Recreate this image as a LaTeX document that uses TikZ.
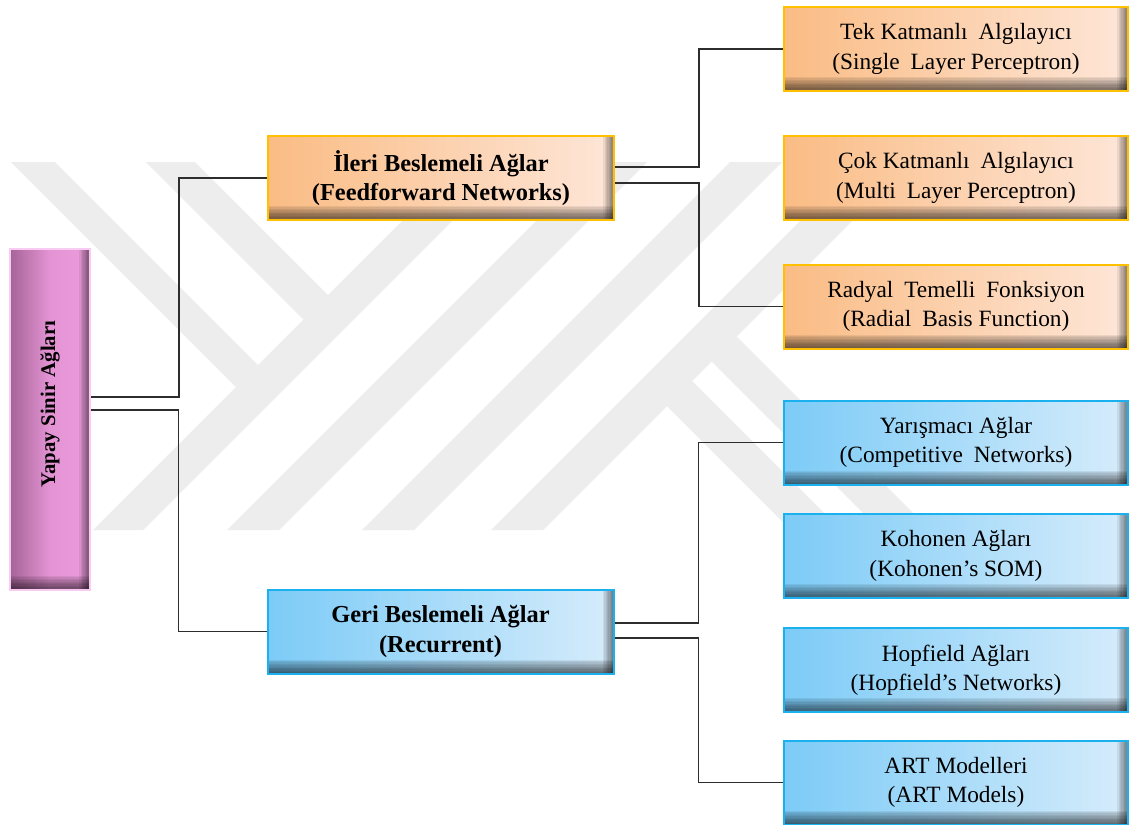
\documentclass[tikz,border=0pt]{standalone}
\usepackage{fontspec}
\setmainfont{Liberation Serif}
\usetikzlibrary{calc}

% palette
\definecolor{orangeA}{RGB}{250,188,132}
\definecolor{orangeB}{RGB}{254,230,216}
\definecolor{goldline}{RGB}{255,192,0}
\definecolor{blueA}{RGB}{124,203,247}
\definecolor{blueB}{RGB}{214,236,251}
\definecolor{blueline}{RGB}{27,176,238}
\definecolor{mauveA}{RGB}{166,100,152}
\definecolor{mauveM}{RGB}{228,148,212}
\definecolor{mauveB}{RGB}{236,156,220}
\definecolor{pinkline}{RGB}{248,204,242}
\definecolor{markgray}{RGB}{237,237,237}
\definecolor{wire}{RGB}{45,45,45}

\newcommand\gap{\hspace{0.22em}}

\tikzset{
  % inner bevel: stacked translucent strips darken the bottom and right edges
  bevel/.style={
    inner sep=0pt, align=center,
    font=\fontsize{17.5}{22}\selectfont,
    line width=1.5pt,
    path picture={
      \foreach \k in {1,...,10}{
        \fill[black, opacity=.07]
          (path picture bounding box.south west) rectangle
          ([yshift=\k*1.05pt]path picture bounding box.south east);
      }
      \foreach \k in {1,...,8}{
        \fill[black, opacity=.07]
          ([xshift=-\k*1pt]path picture bounding box.south east) rectangle
          (path picture bounding box.north east);
      }
    }},
  leafbox/.style={bevel, minimum width=258pt, minimum height=63pt},
  midbox/.style={bevel, minimum width=259.5pt, minimum height=63pt,
    font=\fontsize{18.3}{22}\selectfont\bfseries},
  warm/.style={draw=goldline, left color=orangeA, right color=orangeB},
  cool/.style={draw=blueline, left color=blueA, right color=blueB},
  conn/.style={draw=wire, line width=1pt},
  emblem/.style={fill=markgray, draw=none}
}

\begin{document}
\begin{tikzpicture}[x=0.75pt, y=-0.75pt]
\useasboundingbox (0,0) rectangle (1129,825);
\fill[white] (0,0) rectangle (1129,825);

% faint emblem in the background
\fill[emblem] (11,162) -- (55,162) -- (258,365) -- (236,387) -- cycle;
\fill[emblem] (146,162) -- (195,162) -- (328,295) -- (303.5,319.5) -- cycle;
\fill[emblem] (93,530) -- (143,530) -- (511,162) -- (461,162) -- cycle;
\fill[emblem] (227,530) -- (279,530) -- (647,162) -- (595,162) -- cycle;
\fill[emblem] (362,530) -- (414,530) -- (782,162) -- (730,162) -- cycle;
\fill[emblem] (491,530) -- (543,530) -- (911,162) -- (859,162) -- cycle;
\fill[emblem] (667,406) -- (692,381) -- (841,530) -- (791,530) -- cycle;
\fill[emblem] (711.5,361.5) -- (736.5,336.5) -- (930,530) -- (880,530) -- cycle;

% root
\node[bevel, draw=pinkline, left color=mauveA, right color=mauveB, middle color=mauveM,
      minimum width=60pt, minimum height=255.75pt] (L) at (50,419.5) {};
\node[rotate=90, font=\fontsize{15.6}{18}\selectfont\bfseries] (Lt) at (50,404) {Yapay Sinir Ağları};

% second level
\node[midbox, warm] (F) at (441,178) {İleri Beslemeli Ağlar\\(Feedforward Networks)};
\node[midbox, cool] (R) at (440.5,631.5) {Geri Beslemeli Ağlar\\(Recurrent)};

% leaves
\node[leafbox, warm] (O1) at (956,49) {Tek Katmanlı\gap{} Algılayıcı\\(Single\gap{} Layer Perceptron)};
\node[leafbox, warm] (O2) at (956,178) {Çok Katmanlı\gap{} Algılayıcı\\(Multi\gap{} Layer Perceptron)};
\node[leafbox, warm] (O3) at (956,306.5) {Radyal\gap{} Temelli\gap{} Fonksiyon\\(Radial\gap{} Basis Function)};
\node[leafbox, cool] (B1) at (956,442.5) {Yarışmacı Ağlar\\(Competitive\gap{} Networks)};
\node[leafbox, cool] (B2) at (956,556) {Kohonen Ağları\\(Kohonen’s SOM)};
\node[leafbox, cool] (B3) at (956,670) {Hopfield Ağları\\(Hopfield’s Networks)};
\node[leafbox, cool] (B4) at (956,782.5) {ART Modelleri\\(ART Models)};

% connector start points
\coordinate (lf) at ($(L.east)+(0,-22.5)$);
\coordinate (lr) at ($(L.east)+(0,-9.5)$);
\coordinate (fa) at ($(F.east)+(0,-11)$);
\coordinate (fb) at ($(F.east)+(0,5)$);
\coordinate (ra) at ($(R.east)+(0,-8.5)$);
\coordinate (rb) at ($(R.east)+(0,6.5)$);

% connectors
\draw[conn] (lf) -| ($(lf)!.5!(F.west)$) |- (F.west);
\draw[conn] (lr) -| ($(lr)!.5!(R.west)$) |- (R.west);
\draw[conn] (fa) -| ($(fa)!.5!(O1.west)$) |- (O1.west);
\draw[conn] (fb) -| ($(fb)!.5!(O3.west)$) |- (O3.west);
\draw[conn] (ra) -| ($(ra)!.5!(B1.west)$) |- (B1.west);
\draw[conn] (rb) -| ($(rb)!.5!(B4.west)$) |- (B4.west);
\end{tikzpicture}
\end{document}
